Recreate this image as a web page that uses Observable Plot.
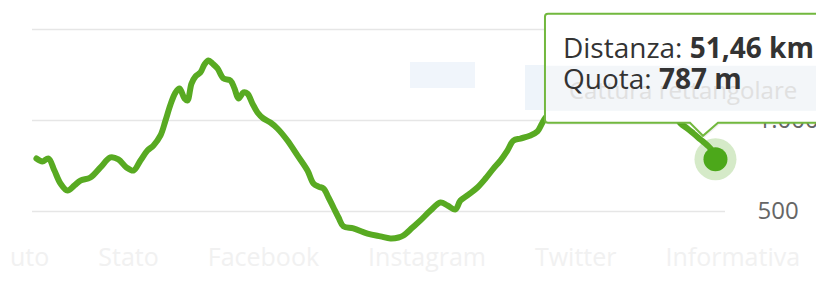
<!DOCTYPE html>
<html><head><meta charset="utf-8">
<script src="https://cdn.jsdelivr.net/npm/d3@7"></script>
<script src="https://cdn.jsdelivr.net/npm/@observablehq/plot@0.6"></script>
<style>
body{margin:0;background:#fff;font-family:"Open Sans",sans-serif;}
#wrap{position:relative;width:816px;height:290px;overflow:hidden;}
#wrap svg{display:block;}
</style></head><body><div id="wrap"></div>
<script>
const distanceKm = [0,0.45,0.91,1.36,1.82,2.35,2.88,3.33,4.09,4.85,5.61,6.21,6.82,7.35,7.88,8.41,8.87,9.40,9.78,10.16,10.54,10.84,11.22,11.44,11.75,12.05,12.43,12.73,13.04,13.34,13.72,14.17,14.70,15.01,15.31,15.69,15.99,16.37,16.75,17.20,17.73,18.26,19.02,19.78,20.54,20.99,21.37,21.75,22.13,22.51,22.89,23.27,24.02,25.09,26.07,26.83,27.44,27.81,28.50,29.10,29.86,30.62,31.15,31.75,32.13,32.74,33.42,34.03,34.63,35.16,35.69,36.15,36.68,37.44,37.97,38.27,38.58,39.33,40.09,41.23,42.74,44.26,45.78,47.29,48.43,48.81,49.34,49.79,50.32,50.78,51.08,51.46];
const elevationM = [791,775,791,725,654,615,643,670,687,742,797,786,742,725,780,835,863,918,1000,1088,1154,1176,1121,1110,1203,1242,1264,1308,1330,1313,1286,1231,1220,1176,1121,1154,1148,1093,1044,1011,989,956,890,808,725,654,637,626,577,522,467,418,407,379,363,352,357,368,412,451,505,549,533,511,560,593,632,681,736,780,835,890,901,918,940,978,1016,1066,1110,1137,1154,1132,1110,1077,1022,984,956,929,896,868,846,787];
const yTicks = [500, 1000, 1500];
const footerLinks = ["uto", "Stato", "Facebook", "Instagram", "Twitter", "Informativa"];
const tooltipLabels = ["Distanza: ", "Quota: "];
const ghostText = "Cattura rettangolare";

const it = d3.formatLocale({decimal: ",", thousands: ".", grouping: [3], currency: ["€", ""]});
const fmtTick = it.format(",d");
const fmtKm = it.format(",.2f");
const fmtM = it.format(",d");

const data = distanceKm.map((d, i) => ({d, e: elevationM[i]}));
const last = data[data.length - 1];
const green = "#58aa22";

const chart = Plot.plot({
  width: 816, height: 290,
  marginLeft: 32, marginRight: 91, marginTop: 29, marginBottom: 79,
  x: {domain: [-0.3, 52.22], axis: null},
  y: {domain: [500, 1500], axis: null},
  style: {fontFamily: "Open Sans", fontSize: "24px", background: "transparent", overflow: "hidden"},
  marks: [
    Plot.gridY(yTicks, {stroke: "#e6e6e6", strokeOpacity: 1, strokeWidth: 1.6}),
    Plot.axisY(yTicks, {anchor: "right", tickSize: 0, tickPadding: 32, textAnchor: "start",
      tickFormat: fmtTick, fontSize: 24, fill: "#666", label: null}),
    Plot.line(data, {x: "d", y: "e", stroke: green, strokeWidth: 6, curve: "catmull-rom",
      strokeLinejoin: "round", strokeLinecap: "round"}),
    Plot.dot([last], {x: "d", y: "e", r: 21, fill: green, fillOpacity: 0.25, stroke: "none"}),
    Plot.dot([last], {x: "d", y: "e", r: 12, fill: "#4ca81a", stroke: "none"})
  ]
});
document.getElementById("wrap").appendChild(chart);

const svg = d3.select(chart);
const px = chart.scale("x").apply(last.d);
const py = chart.scale("y").apply(last.e);

// faint background page elements (behind everything)
const bg = svg.insert("g", ":first-child").attr("text-anchor", "start");
bg.append("rect").attr("x", 410).attr("y", 62).attr("width", 65).attr("height", 26).attr("fill", "#f0f5fb");
bg.append("rect").attr("x", 525).attr("y", 65).attr("width", 300).attr("height", 45).attr("fill", "#eef4fa");
let fx = 10;
footerLinks.forEach(w => {
  const t = bg.append("text").attr("x", fx).attr("y", 266).attr("fill", "#f1f1f1")
    .attr("font-size", 25).attr("font-family", "Open Sans").text(w);
  fx += t.node().getComputedTextLength() + 49;
});

// tooltip
const L = px - 170, T = py - 145, B = py - 36, R = px + 140;
const path = `M${L+3},${T}H${R}V${B}H${px+3}L${px-12},${py-23}L${px-25},${B}H${L+3}Q${L},${B} ${L},${B-3}V${T+3}Q${L},${T} ${L+3},${T}Z`;
const tg = svg.append("g").attr("text-anchor", "start");
tg.append("path").attr("d", path).attr("transform", "translate(1.5,2)").attr("fill", "rgba(0,0,0,0.06)");
tg.append("path").attr("d", path).attr("fill", "#ffffff").attr("stroke", "#72b83e").attr("stroke-width", 2);
tg.append("rect").attr("x", L + 1).attr("y", py - 93).attr("width", 300).attr("height", 45).attr("fill", "#f3f6f9");
tg.append("text").attr("x", L + 24).attr("y", py - 60).attr("fill", "#e0e0e0")
  .attr("font-size", 24).attr("font-family", "Open Sans").text(ghostText);
const vals = [fmtKm(last.d) + " km", fmtM(last.e) + " m"];
tooltipLabels.forEach((lab, i) => {
  const t = tg.append("text").attr("x", px - 152).attr("y", py - 101 + i * 31)
    .attr("font-size", 28).attr("font-family", "Open Sans").attr("fill", "#333");
  t.append("tspan").text(lab);
  t.append("tspan").attr("font-weight", "bold").text(vals[i]);
});
</script></body></html>
